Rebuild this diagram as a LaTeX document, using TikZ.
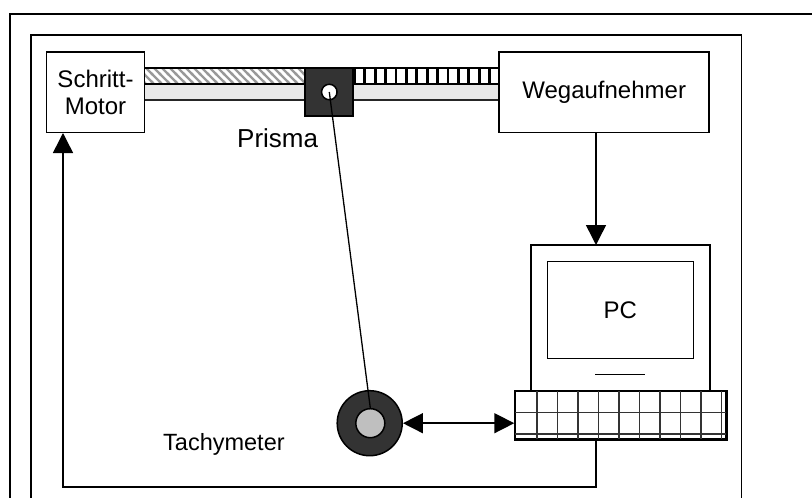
\documentclass[tikz,border=0pt]{standalone}
\usepackage{fontspec}
\setmainfont{Liberation Sans}
\usetikzlibrary{arrows.meta,patterns}
\pgfdeclarepatternformonly{hatchd}{\pgfqpoint{-2pt}{-2pt}}{\pgfqpoint{10pt}{10pt}}{\pgfqpoint{8pt}{8pt}}{%
  \pgfsetlinewidth{2.2pt}\pgfsetbuttcap
  \pgfpathmoveto{\pgfqpoint{-1pt}{9pt}}\pgfpathlineto{\pgfqpoint{9pt}{-1pt}}\pgfusepath{stroke}}
\tikzset{x=1pt,y=-1pt,
 ln/.style={draw=black,line width=1.5pt},
 box/.style={ln,fill=white,inner sep=0pt,align=center,font=\fontsize{24}{27}\selectfont},
 lab/.style={inner sep=0pt,anchor=base west,font=\fontsize{23.5}{28}\selectfont},
 arr/.style={ln,-{Triangle[length=20pt,width=20pt]}},
 darr/.style={ln,{Triangle[length=20pt,width=20pt]}-{Triangle[length=20pt,width=20pt]}},
 grid ln/.style={draw=black!80,line width=1.6pt}
}
\begin{document}
\begin{tikzpicture}
\useasboundingbox (0,0) rectangle (812,498);
\fill[white] (0,0) rectangle (812,498);
% frames
\draw[ln] (10,498) -- (10,14) -- (812,14);
\draw[ln] (31,498) -- (31,35) -- (741.5,35) -- (741.5,498);
% rail
\fill[black!9] (144,84) rectangle (500,100);
\fill[pattern=hatchd,pattern color=black!40] (144,69) rectangle (305,84);
\draw[ln] (144,68) -- (500,68);
\draw[ln] (144,84) -- (500,84);
\draw[draw=black!85,line width=1.3pt] (144,100) -- (500,100);
% ruler
\fill[black] (353,68) rectangle (499,84);
\foreach \i in {0,...,13} \fill[white] ({355.7+\i*10.4},69) rectangle ({363.4+\i*10.4},83.2);
% motor and position sensor
\node[box,minimum width=98,minimum height=80.5] (motor) at (95.5,92.2) {Schritt-\\Motor};
\node[box,minimum width=210,minimum height=80.5] (weg) at (604.2,92.2) {Wegaufnehmer};
% prisma
\node[ln,fill=black!80,minimum width=48,minimum height=48,inner sep=0pt] (pris) at (329,92) {};
\node[ln,fill=white,circle,minimum size=15.5,inner sep=0pt] (lens) at (329.3,92) {};
\path (237,147) node[lab,font=\fontsize{26}{30}\selectfont] (plab) {Prisma};
% PC
\node[ln,fill=white,minimum width=179,minimum height=146,inner sep=0pt] (case) at (620.5,318) {};
\node[ln,fill=white,minimum width=146,minimum height=97,inner sep=0pt,font=\fontsize{24}{28}\selectfont] (screen) at (620.3,309.8) {PC};
\coordinate (sa) at (595.3,374.7); \coordinate (sb) at (645.3,374.7);
\draw[ln] (sa) -- (sb);
% keyboard
\node[ln,fill=white,minimum width=211,minimum height=48,inner sep=0pt] (kb) at (620.5,415) {};
\foreach \i in {0,...,9} \draw[grid ln] ({537+\i*20.5},391) -- ({537+\i*20.5},439);
\draw[grid ln] (515,412.5) -- (726,412.5);
\draw[grid ln] (515,434) -- (726,434);
\draw[ln] (kb.south west) rectangle (kb.north east);
% tachymeter
\node[ln,fill=black!80,circle,minimum size=65,inner sep=0pt] (tach) at (369.7,423.2) {};
\node[ln,fill=black!25,circle,minimum size=29,inner sep=0pt] (tin) at (370.3,423.2) {};
\path (163,450) node[lab] (tlab) {Tachymeter};
% connectors
\draw[draw=black,line width=1.3pt] (lens.center) -- (tin.north);
\coordinate (tipw) at (596,245);
\draw[arr] (weg.south -| tipw) -- (tipw);
\draw[darr] (tach.east) -- (tach.east -| kb.west);
\coordinate (c1) at (596,487); \coordinate (c2) at (63,487); \coordinate (tipm) at (63,133);
\draw[arr] (kb.south -| c1) -- (c1) -- (c2) -- (tipm);
\end{tikzpicture}
\end{document}
